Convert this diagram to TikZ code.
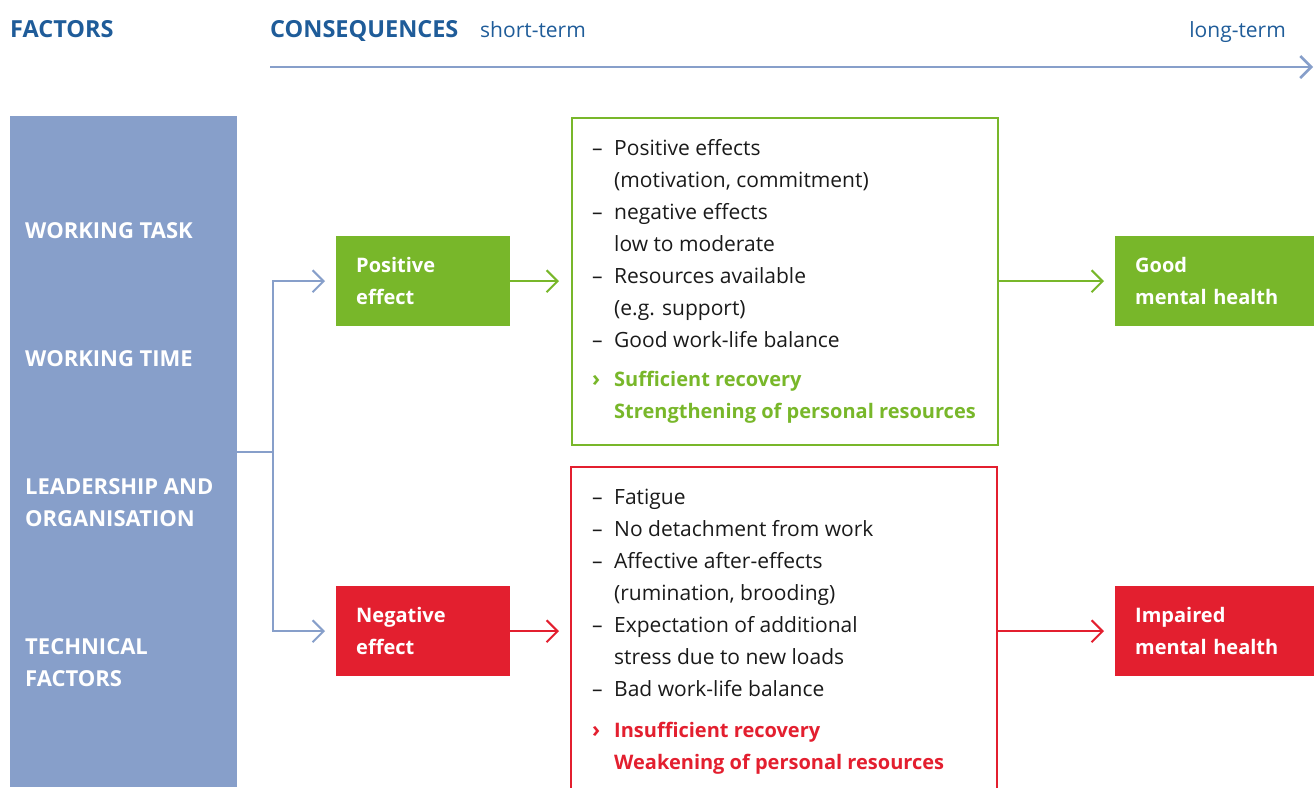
\documentclass[tikz,border=0pt]{standalone}
\usepackage{fontspec}
\setmainfont{Open Sans}
\usetikzlibrary{arrows.meta,positioning}

\definecolor{headblue}{HTML}{1F5C99}
\definecolor{barblue}{HTML}{879FCA}
\definecolor{posgreen}{HTML}{78B72A}
\definecolor{negred}{HTML}{E31F2F}
\definecolor{bodytext}{HTML}{1A1A1A}

\newcommand{\fxitem}[1]{\makebox[22pt][l]{--}#1}
\newcommand{\fxcont}[1]{\hspace*{22pt}#1}
\newcommand{\fxkey}[1]{\makebox[22pt][l]{\fontsize{22}{32}\selectfont›}#1}

\tikzset{
  flowarrow/.style={line width=2pt,-{Straight Barb[length=11pt,width=22pt,line width=2pt]}},
  barlabel/.style={anchor=west,text=white,align=left,inner sep=0pt,
    font=\bfseries\fontsize{22}{32}\selectfont},
  effectbox/.style={anchor=north west,minimum width=174pt,minimum height=90pt,
    inner xsep=20pt,inner ysep=0pt,text width=134pt,align=left,text=white,
    font=\bfseries\fontsize{20}{32}\selectfont},
  healthbox/.style={effectbox,minimum width=220pt,text width=180pt},
  fxlist/.style={anchor=north west,inner sep=0pt,align=left,text=bodytext,
    font=\fontsize{21}{32}\selectfont},
  headtext/.style={inner sep=0pt,text=headblue,font=\fontsize{21}{25}\selectfont},
}

\begin{document}
\begin{tikzpicture}[x=1pt,y=-1pt]
\clip (0,0) rectangle (1314,787);

% header
\node[headtext,anchor=base west,font=\bfseries\fontsize{23.5}{25}\selectfont]
  (factors) at (10,37) {FACTORS};
\node[headtext,anchor=base west,font=\bfseries\fontsize{23.5}{25}\selectfont]
  (conseq) at (270,37) {CONSEQUENCES};
\node[headtext,anchor=base west] (shortterm) at (480,37) {short-term};
\node[headtext,anchor=base east] (longterm) at (1286,37) {long-term};
\coordinate (timestart) at (270,67);
\coordinate (timeend) at (1313,67);
\draw[barblue,line width=2.5pt,-{Straight Barb[length=11pt,width=22pt,line width=2.5pt]}]
  (timestart) -- (timeend);

% factors bar
\node[fill=barblue,anchor=north west,minimum width=227pt,minimum height=671pt,inner sep=0pt]
  (bar) at (10,116) {};
\node[barlabel] (task) at (25,231) {WORKING TASK};
\node[barlabel] (time) at (25,359) {WORKING TIME};
\node[barlabel] (lead) at (25,503) {LEADERSHIP AND\\ORGANISATION};
\node[barlabel] (tech) at (25,663) {TECHNICAL\\FACTORS};

% effects
\node[effectbox,fill=posgreen] (pos) at (336,236) {Positive\\effect};
\node[effectbox,fill=negred] (neg) at (336,586) {Negative\\effect};

\draw[barblue,line width=2pt] (bar.east) -- ++(36,0) coordinate (split);
\draw[barblue,flowarrow] (split) |- ([xshift=-11pt]pos.west);
\draw[barblue,flowarrow] (split) |- ([xshift=-11pt]neg.west);

% consequence boxes
\node[draw=posgreen,line width=2pt,anchor=north west,minimum width=426pt,minimum height=327pt,inner sep=0pt]
  (posbox) at (571,117) {};
\draw[negred,line width=2pt] (571,820) -- (571,467) coordinate (negcorner) -- (997,467) -- (997,820);
\coordinate (negbox) at (571,631);
\coordinate (negboxe) at (997,631);

\node[fxlist] (poslist) at (592,139) {%
  \fxitem{Positive effects}\\
  \fxcont{(motivation, commitment)}\\
  \fxitem{negative effects}\\
  \fxcont{low to moderate}\\
  \fxitem{Resources available}\\
  \fxcont{(e.g. support)}\\
  \fxitem{Good work-life balance}\\[7pt]
  {\bfseries\fontsize{20}{32}\selectfont\color{posgreen}\fxkey{Sufficient recovery}}\\
  {\bfseries\fontsize{20}{32}\selectfont\color{posgreen}\fxcont{Strengthening of personal resources}}};
\node[fxlist] (neglist) at (592,489) {%
  \fxitem{Fatigue}\\
  \fxitem{No detachment from work}\\
  \fxitem{Affective after-effects}\\
  \fxcont{(rumination, brooding)}\\
  \fxitem{Expectation of additional}\\
  \fxcont{stress due to new loads}\\
  \fxitem{Bad work-life balance}\\[9pt]
  {\bfseries\fontsize{20}{32}\selectfont\color{negred}\fxkey{Insufficient recovery}}\\
  {\bfseries\fontsize{20}{32}\selectfont\color{negred}\fxcont{Weakening of personal resources}}};

\draw[posgreen,flowarrow] (pos.east) -- ([xshift=-12pt]posbox.west |- pos.east);
\draw[negred,flowarrow] (neg.east) -- ([xshift=-12pt]negbox |- neg.east);

% outcomes
\node[healthbox,fill=posgreen] (good) at (1115,236) {Good\\mental health};
\node[healthbox,fill=negred] (impaired) at (1115,586) {Impaired\\mental health};

\draw[posgreen,flowarrow] (posbox.east |- good.west) -- ([xshift=-11pt]good.west);
\draw[negred,flowarrow] (negboxe |- impaired.west) -- ([xshift=-11pt]impaired.west);
\end{tikzpicture}
\end{document}
